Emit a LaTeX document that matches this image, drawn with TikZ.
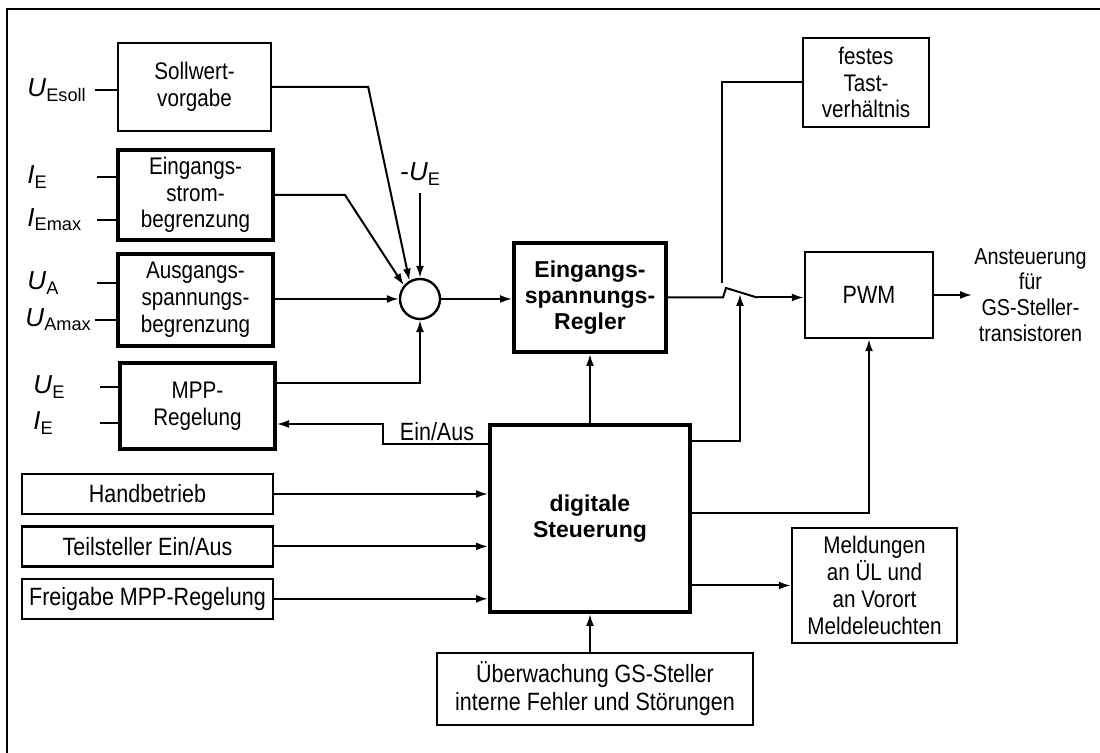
\documentclass[tikz,border=0pt]{standalone}
\usepackage{fontspec}
\setmainfont{Liberation Sans}
\newfontfamily\condfont[FakeStretch=0.86]{Liberation Sans}
\usepackage{tikz}
\usetikzlibrary{arrows.meta, positioning, calc}

\tikzset{
  blockbox/.style={
    draw, line width=1.2pt, align=center, inner sep=1pt,
    font=\condfont\fontsize{12}{13.4}\selectfont
  },
  blockboxthick/.style={
    blockbox, line width=2pt
  },
  inbox/.style={
    blockbox, minimum width=125.5pt, minimum height=20pt,
    font=\condfont\fontsize{12.5}{14}\selectfont
  },
  ctrlbox/.style={
    draw, line width=2pt, align=center,
    font=\bfseries\fontsize{11.5}{13}\selectfont
  },
  sigarrow/.style={-{Latex[length=6pt,width=4pt]}, line width=1pt},
  sigline/.style={line width=1pt},
  siglabel/.style={font=\condfont\fontsize{12.5}{14}\selectfont, inner sep=1pt},
  varlabel/.style={font=\fontsize{13}{14.5}\selectfont, inner sep=0pt, anchor=west},
}

\begin{document}
\begin{tikzpicture}[x=0.5pt, y=-0.5pt]
  \useasboundingbox (0,0) rectangle (1100,753);

  % Frame
  \draw[line width=1pt] (7,753) -- (7,9) -- (1100,9);

  % Limiter and set point blocks
  \node[blockbox, minimum width=76.5pt, minimum height=44pt] (soll) at (194.5,87)
    {Sollwert-\\vorgabe};
  \node[blockboxthick, minimum width=77.5pt, minimum height=45pt] (strom) at (195.5,195)
    {Eingangs-\\strom-\\begrenzung};
  \node[blockboxthick, minimum width=77.5pt, minimum height=46pt] (ausg) at (195.5,300)
    {Ausgangs-\\spannungs-\\begrenzung};
  \node[blockboxthick, minimum width=77.5pt, minimum height=43pt] (mpp) at (197.5,406)
    {MPP-\\Regelung};

  % Input quantities
  \node[varlabel] (uesoll) at (27,90) {\textit{U}\textsubscript{Esoll}};
  \node[varlabel] (ie) at (27,177) {\textit{I}\textsubscript{E}};
  \node[varlabel] (iemax) at (27,220) {\textit{I}\textsubscript{Emax}};
  \node[varlabel] (ua) at (27,283) {\textit{U}\textsubscript{A}};
  \node[varlabel] (uamax) at (25,320) {\textit{U}\textsubscript{Amax}};
  \node[varlabel] (ue) at (33,387) {\textit{U}\textsubscript{E}};
  \node[varlabel] (iempp) at (33,423) {\textit{I}\textsubscript{E}};
  \coordinate (in1) at (95,90);
  \coordinate (in2) at (97,177);
  \coordinate (in3) at (97,220);
  \coordinate (in4) at (97,283);
  \coordinate (in5) at (95,320);
  \coordinate (in6) at (100,387);
  \coordinate (in7) at (100,423);
  \draw[sigline] (in1) -- (soll.west |- in1);
  \draw[sigline] (in2) -- (strom.west |- in2);
  \draw[sigline] (in3) -- (strom.west |- in3);
  \draw[sigline] (in4) -- (ausg.west |- in4);
  \draw[sigline] (in5) -- (ausg.west |- in5);
  \draw[sigline] (in6) -- (mpp.west |- in6);
  \draw[sigline] (in7) -- (mpp.west |- in7);

  % Summing point and controller
  \node[draw, circle, line width=1.2pt, minimum size=20pt, inner sep=0pt] (sum) at (420,299) {};
  \node[varlabel] (mue) at (400,174) {-\textit{U}\textsubscript{E}};
  \coordinate (mueend) at (420,193);
  \node[ctrlbox, minimum width=76pt, minimum height=54.5pt] (regler) at (590,297.5)
    {Eingangs-\\spannungs-\\Regler};
  \node[ctrlbox, minimum width=100pt, minimum height=93.5pt] (dig) at (590,518.5)
    {digitale\\Steuerung};

  \draw[sigarrow] (soll.east) -- ++(96,0) -- (sum.120);
  \draw[sigarrow] (strom.east) -- ++(70,0) -- (sum.140);
  \draw[sigarrow] (mueend) -- (sum.north);
  \draw[sigarrow] (ausg.east |- sum.west) -- (sum.west);
  \draw[sigarrow] ($(mpp.north east)!0.25!(mpp.south east)$) -| (sum.south);
  \draw[sigarrow] (sum.east) -- (regler.west |- sum.east);

  % Commands for digital control
  \node[inbox] (hand) at (147.5,494) {Handbetrieb};
  \node[inbox, below=5pt of hand] (teil) {Teilsteller Ein/Aus};
  \node[inbox, below=5pt of teil] (frei) {Freigabe MPP-Regelung};
  \draw[sigarrow] (hand.east) -- (dig.west |- hand.east);
  \draw[sigarrow] (teil.east) -- (dig.west |- teil.east);
  \draw[sigarrow] (frei.east) -- (dig.west |- frei.east);

  % Ein/Aus back to MPP
  \draw[sigarrow] ($(dig.north west)+(0,21)$) -- ++(-105,0)
    |- ($(mpp.north east)!0.7!(mpp.south east)$);
  \node[siglabel, anchor=base] (einaus) at (437,441) {Ein/Aus};

  % Right hand blocks
  \node[blockbox, minimum width=63pt, minimum height=44.5pt] (festes) at (866,82.5)
    {festes\\Tast-\\verhältnis};
  \node[blockbox, minimum width=64pt, minimum height=43pt,
    font=\condfont\fontsize{12.5}{14}\selectfont] (pwm) at (869,295) {PWM};
  \node[blockbox, minimum width=82.5pt, minimum height=57.5pt] (meld) at (874.5,585.5)
    {Meldungen\\an ÜL und\\an Vorort\\Meldeleuchten};
  \node[blockbox, minimum width=158pt, minimum height=36pt,
    font=\condfont\fontsize{12.5}{14}\selectfont] (ueber) at (595,689)
    {Überwachung GS-Steller\\interne Fehler und Störungen};
  \node[siglabel, align=center, anchor=west,
    font=\condfont\fontsize{11.5}{12.9}\selectfont] (ans) at (972,295)
    {Ansteuerung\\für\\GS-Steller-\\transistoren};

  % Switch
  \coordinate (swA) at (723,297.5);
  \coordinate (swT) at (726,288);
  \coordinate (swP) at (757,297.5);
  \coordinate (swB) at (722,283);
  \coordinate (swC) at (740,294);
  \draw[sigline] (regler.east) -- (swA) -- (swT) -- (swP);
  \draw[sigline] (festes.west) -| (swB);
  \draw[sigarrow] (swP) -- (pwm.west |- swP);
  \draw[sigarrow] (pwm.east) -- (ans.west);

  % Outputs of digital control
  \draw[sigarrow] (dig.north) -- (regler.south);
  \draw[sigarrow] ($(dig.north east)+(0,18)$) -| (swC);
  \draw[sigarrow] ($(dig.north east)+(0,90)$) -| (pwm.south);
  \draw[sigarrow] (dig.east |- meld.west) -- (meld.west);
  \draw[sigarrow] (dig.south |- ueber.north) -- (dig.south);
\end{tikzpicture}
\end{document}
